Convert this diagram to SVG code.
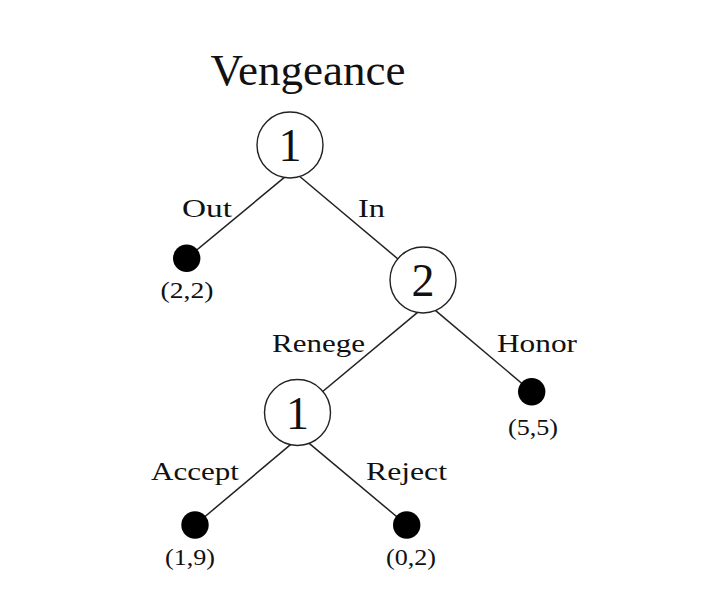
<svg xmlns="http://www.w3.org/2000/svg" width="716" height="614" viewBox="0 0 716 614">
<style>
.t{font-family:"Liberation Serif","Times New Roman",serif;fill:#111}
.title{font-size:44px}
.num{font-size:46px}
.lbl{font-size:26px}
.pay{font-size:24px}
.node{fill:#fff;stroke:#222;stroke-width:1.4}
.leaf{fill:#000}
.edge{stroke:#222;stroke-width:1.5;fill:none}
</style>
<rect width="716" height="614" fill="#fff"/>
<text class="t title" x="308" y="85" text-anchor="middle" textLength="195" lengthAdjust="spacingAndGlyphs">Vengeance</text>
<g id="connectors">
<line class="edge" x1="285.6" y1="176.4" x2="186.7" y2="258.3"/>
<line class="edge" x1="297.7" y1="174.8" x2="423" y2="280"/>
<line class="edge" x1="420.6" y1="309.8" x2="297.5" y2="412.5"/>
<line class="edge" x1="432.7" y1="308.1" x2="531.7" y2="391.7"/>
<line class="edge" x1="292.3" y1="443.1" x2="195" y2="525"/>
<line class="edge" x1="307.7" y1="442.1" x2="406.7" y2="525"/>
<text class="t lbl" x="182" y="217" textLength="50" lengthAdjust="spacingAndGlyphs">Out</text>
<text class="t lbl" x="358" y="217" textLength="27" lengthAdjust="spacingAndGlyphs">In</text>
<text class="t lbl" x="272" y="352" textLength="93" lengthAdjust="spacingAndGlyphs">Renege</text>
<text class="t lbl" x="497" y="352" textLength="80" lengthAdjust="spacingAndGlyphs">Honor</text>
<text class="t lbl" x="151" y="480" textLength="88" lengthAdjust="spacingAndGlyphs">Accept</text>
<text class="t lbl" x="366" y="480" textLength="81" lengthAdjust="spacingAndGlyphs">Reject</text>
</g>
<g id="n1">
<circle class="node" cx="290" cy="145" r="33"/>
<text class="t num" x="290" y="161" text-anchor="middle">1</text>
</g>
<g id="n2">
<circle class="node" cx="423" cy="280" r="33"/>
<text class="t num" x="423" y="296" text-anchor="middle">2</text>
</g>
<g id="n3">
<circle class="node" cx="297.5" cy="412.5" r="33"/>
<text class="t num" x="297.5" y="428.5" text-anchor="middle">1</text>
</g>
<g id="leaf-out">
<circle class="leaf" cx="186.7" cy="258.3" r="13.7"/>
<text class="t pay" x="187" y="298" text-anchor="middle" textLength="53" lengthAdjust="spacingAndGlyphs">(2,2)</text>
</g>
<g id="leaf-honor">
<circle class="leaf" cx="531.7" cy="391.7" r="13.7"/>
<text class="t pay" x="533" y="435" text-anchor="middle" textLength="50" lengthAdjust="spacingAndGlyphs">(5,5)</text>
</g>
<g id="leaf-accept">
<circle class="leaf" cx="195" cy="525" r="13.7"/>
<text class="t pay" x="190" y="565" text-anchor="middle" textLength="50" lengthAdjust="spacingAndGlyphs">(1,9)</text>
</g>
<g id="leaf-reject">
<circle class="leaf" cx="406.7" cy="525" r="13.7"/>
<text class="t pay" x="411" y="565" text-anchor="middle" textLength="50" lengthAdjust="spacingAndGlyphs">(0,2)</text>
</g>
</svg>
